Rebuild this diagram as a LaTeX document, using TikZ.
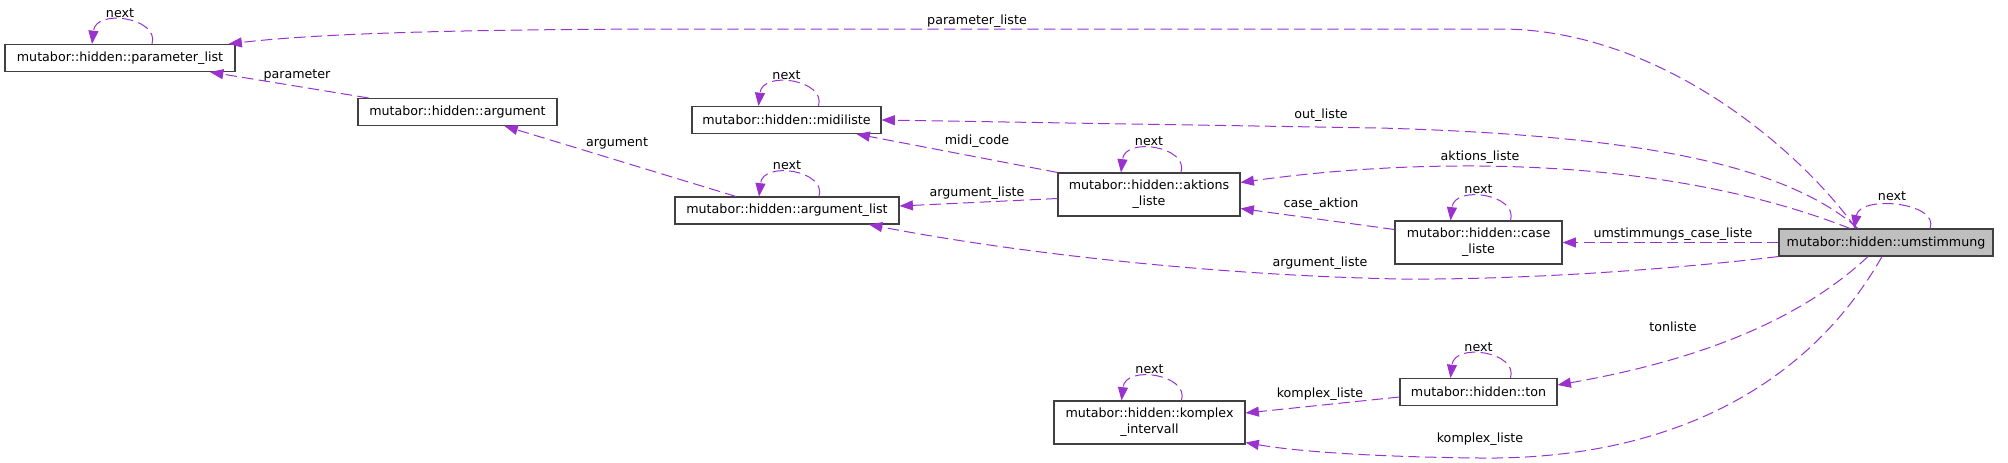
\documentclass[tikz,border=0pt]{standalone}
\usepackage{fontspec}
\setmainfont{DejaVu Sans}
\usepackage{tikz}
\usetikzlibrary{arrows.meta,calc}
\definecolor{member}{RGB}{154,50,205}
\definecolor{current}{RGB}{191,191,191}
\tikzset{>={Triangle[length=10pt,width=7.5pt]}}
\tikzset{cls/.style={draw=black!75, line width=0.8pt, align=center, inner sep=0pt,
    minimum height=20.25pt, font=\fontsize{9.5}{12}\selectfont},
  two/.style={minimum height=32.25pt},
  wd/.style={minimum width=#1*0.75pt},
  use/.style={->, draw=member, line width=0.75pt, dash pattern=on 8.5pt off 4pt},
  lbl/.style={inner sep=0pt, font=\fontsize{9.5}{12}\selectfont}}

\begin{document}
\begin{tikzpicture}[x=0.75pt,y=-0.75pt]
\useasboundingbox (0,0) rectangle (2008,462);

\node[cls,wd=230] (plist) at (120,58) {mutabor::hidden::parameter\_list};
\node[cls,wd=199] (arg) at (457.5,112) {mutabor::hidden::argument};
\node[cls,wd=189] (midi) at (786.5,120) {mutabor::hidden::midiliste};
\node[cls,wd=224] (alist) at (787,210.5) {mutabor::hidden::argument\_list};
\node[cls,two,wd=182] (aktion) at (1149,194.5) {mutabor::hidden::aktions\\\_liste};
\node[cls,two,wd=167] (cases) at (1478.5,242.5) {mutabor::hidden::case\\\_liste};
\node[cls,wd=214,fill=current] (umst) at (1886,242.5) {mutabor::hidden::umstimmung};
\node[cls,wd=157] (ton) at (1478.5,392) {mutabor::hidden::ton};
\node[cls,two,wd=191] (komplex) at (1149.5,422.5) {mutabor::hidden::komplex\\\_intervall};

\foreach \n in {plist,midi,alist,aktion,cases,ton,komplex}{
  \draw[use] ($(\n.north)+(32,0)$) .. controls +(8,-26) and +(4,-36) .. ($(\n.north)+(-28,0)$);
  \node[lbl] (\n-next) at ($(\n.north)+(0,-31)$) {next};
}
\draw[use] ($(umst.north)+(44,0)$) .. controls +(10,-26) and +(6,-34) .. ($(umst.north)+(-32,0)$);
\node[lbl] (umst-next) at ($(umst.north)+(6,-32)$) {next};

\draw[use] ($(umst.north)+(-30,0)$) .. controls (1800,150) and (1660,29) .. (1500,29) -- (700,29)
  .. controls (500,29) and (330,32) .. ($(plist.north east)+(-7,0)$);
\draw[use] ($(arg.north west)+(11,0)$) -- ($(plist.south)+(90,0)$);
\draw[use] ($(alist.north)+(-51,0)$) -- ($(arg.south)+(47,0)$);
\draw[use] ($(umst.north)+(-28,0)$) .. controls (1780,160) and (1620,135) .. (1380,128) -- (midi.east);
\draw[use] ($(umst.north)+(-36,0)$) .. controls (1650,150) and (1400,160) .. ($(aktion.east)+(0,-12)$);
\draw[use] (aktion.north west) -- ($(midi.south)+(70,0)$);
\draw[use] ($(aktion.west)+(0,4)$) -- ($(alist.east)+(0,-4.5)$);
\draw[use] (umst.south west) .. controls (1650,272) and (1500,280) .. (1400,279)
  .. controls (1200,275) and (1000,250) .. ($(alist.south)+(82,0)$);
\draw[use] ($(cases.west)+(0,-13)$) -- ($(aktion.east)+(0,14)$);
\draw[use] (umst.west) -- (cases.east);
\draw[use] ($(umst.south)+(-18,0)$) .. controls (1800,320) and (1700,360) .. ($(ton.east)+(0,-7)$);
\draw[use] ($(umst.south)+(-4,0)$) .. controls (1800,400) and (1650,460) .. (1480,458)
  .. controls (1380,457) and (1300,452) .. ($(komplex.south east)+(0,-2)$);
\draw[use] ($(ton.west)+(0,5)$) -- ($(komplex.east)+(0,-9.5)$);

\node[lbl] (l-paramliste) at (977,21) {parameter\_liste};
\node[lbl] (l-param) at (297,75) {parameter};
\node[lbl] (l-arg) at (617,143) {argument};
\node[lbl] (l-out) at (1321,115) {out\_liste};
\node[lbl] (l-midi) at (977,141) {midi\_code};
\node[lbl] (l-arglist1) at (977,193) {argument\_liste};
\node[lbl] (l-aktion) at (1480,157) {aktions\_liste};
\node[lbl] (l-case) at (1321,204) {case\_aktion};
\node[lbl] (l-umcase) at (1673,234) {umstimmungs\_case\_liste};
\node[lbl] (l-arglist2) at (1320,263) {argument\_liste};
\node[lbl] (l-ton) at (1673,327) {tonliste};
\node[lbl] (l-komp1) at (1320,394) {komplex\_liste};
\node[lbl] (l-komp2) at (1480,439) {komplex\_liste};
\end{tikzpicture}
\end{document}
